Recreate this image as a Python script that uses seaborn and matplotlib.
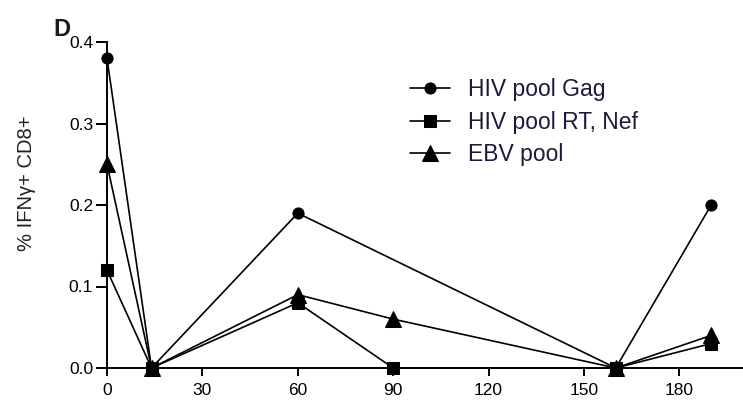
import matplotlib
matplotlib.use("Agg")
import matplotlib.pyplot as plt
import seaborn as sns
import pandas as pd

gag_days = [0, 14, 60, 160, 190]
gag_vals = [0.38, 0.0, 0.19, 0.0, 0.20]
rtnef_days = [0, 14, 60, 90, 160, 190]
rtnef_vals = [0.12, 0.0, 0.08, 0.0, 0.0, 0.03]
ebv_days = [0, 14, 60, 90, 160, 190]
ebv_vals = [0.25, 0.0, 0.09, 0.06, 0.0, 0.04]
labels = ["HIV pool Gag", "HIV pool RT, Nef", "EBV pool"]
x_ticks = [0, 30, 60, 90, 120, 150, 180]
y_ticks = [0.0, 0.1, 0.2, 0.3, 0.4]

sns.set_style("ticks")
plt.rcParams['font.family'] = ['Liberation Sans', 'DejaVu Sans']

W, H = 743, 405
fig = plt.figure(figsize=(W / 100, H / 100), dpi=100)
ax = fig.add_axes([107 / W, 1 - 368 / H, 1 - 107 / W, (368 - 42) / H])

series = [
    (gag_days, gag_vals, labels[0], "o", 8),
    (rtnef_days, rtnef_vals, labels[1], "s", 8.5),
    (ebv_days, ebv_vals, labels[2], "^", 11),
]
for xs, ys, lab, mk, ms in series:
    df = pd.DataFrame({"day": xs, "val": ys})
    sns.lineplot(data=df, x="day", y="val", ax=ax, color="black", lw=1.2,
                 marker=mk, markersize=ms, markeredgecolor="black",
                 markerfacecolor="black", label=lab, clip_on=False, zorder=3)

ax.set_xlim(0, 200)
ax.set_ylim(0, 0.4)
ax.set_xticks(x_ticks)
ax.set_yticks(y_ticks)
ax.set_yticklabels([f"{v:.1f}" for v in y_ticks])
ax.spines['left'].set_bounds(0, 0.4)
ax.spines['right'].set_visible(False)
ax.spines['top'].set_visible(False)
for s in ('left', 'bottom'):
    ax.spines[s].set_linewidth(1.4)
    ax.spines[s].set_color("black")
ax.tick_params(axis='y', length=8, width=1.4, labelsize=12.5, colors="black", pad=2)
ax.tick_params(axis='x', length=6, width=1.4, labelsize=12.5, colors="black", pad=5)
ax.set_xlabel("")
ax.set_ylabel("")
fig.text(27 / W, 1 - 183 / H, "% IFNγ+ CD8+", fontsize=14.5, rotation=90,
         ha="center", va="center", color="#222222")

leg = ax.legend(loc="upper left", bbox_to_anchor=(410 / W, 1 - 78 / H),
                bbox_transform=fig.transFigure, frameon=False,
                fontsize=16.5, handlelength=1.75, handletextpad=0.8,
                labelspacing=0.42, borderpad=0, borderaxespad=0)
for t in leg.get_texts():
    t.set_color("#1a1a3a")

fig.text(53 / W, 1 - 36 / H, "D", fontsize=17, fontweight="bold",
         ha="left", va="baseline", color="#1a1a1a")

fig.savefig("out.png", dpi=100)
